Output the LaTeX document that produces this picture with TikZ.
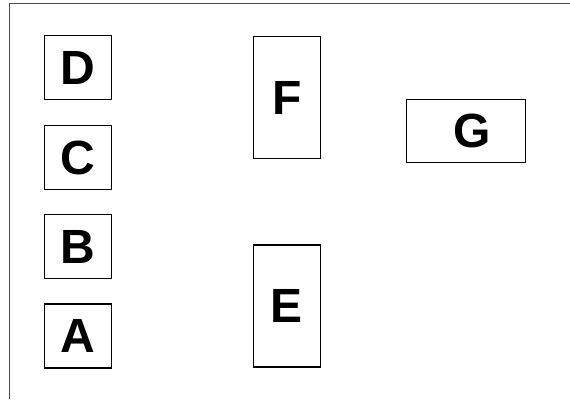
\documentclass[tikz,border=0pt]{standalone}
\usepackage{fontspec}
\setmainfont{Liberation Sans}
\begin{document}
\begin{tikzpicture}[x=1pt,y=1pt,
  box/.style={draw=black,line width=1.3pt,fill=white,inner sep=0pt,minimum width=67pt,
    font=\fontsize{48}{48}\bfseries\selectfont},
  sqbox/.style={box,minimum height=64pt},
  tallbox/.style={box,minimum height=122pt}]
\useasboundingbox (0,0) rectangle (570,399);
\draw[black!70,line width=1pt] (9.5,0)--(9.5,395)--(570,395);
\node[sqbox] (d) at (78,331.5){\raisebox{-1pt}{D}};
\node[sqbox] (c) at (78,241.5){\raisebox{-1pt}{C}};
\node[sqbox] (b) at (78,152.5){\raisebox{-1pt}{B}};
\node[sqbox] (a) at (78,63){\raisebox{-1pt}{A}};
\node[tallbox] (f) at (287,301.5){\raisebox{-1pt}{F}};
\node[tallbox] (e) at (287,93){\raisebox{-1.5pt}{E}};
\node[box,minimum width=119pt,minimum height=63pt] (g) at (466,268){\hspace{12pt}\raisebox{-1.5pt}{G}};
\end{tikzpicture}
\end{document}
